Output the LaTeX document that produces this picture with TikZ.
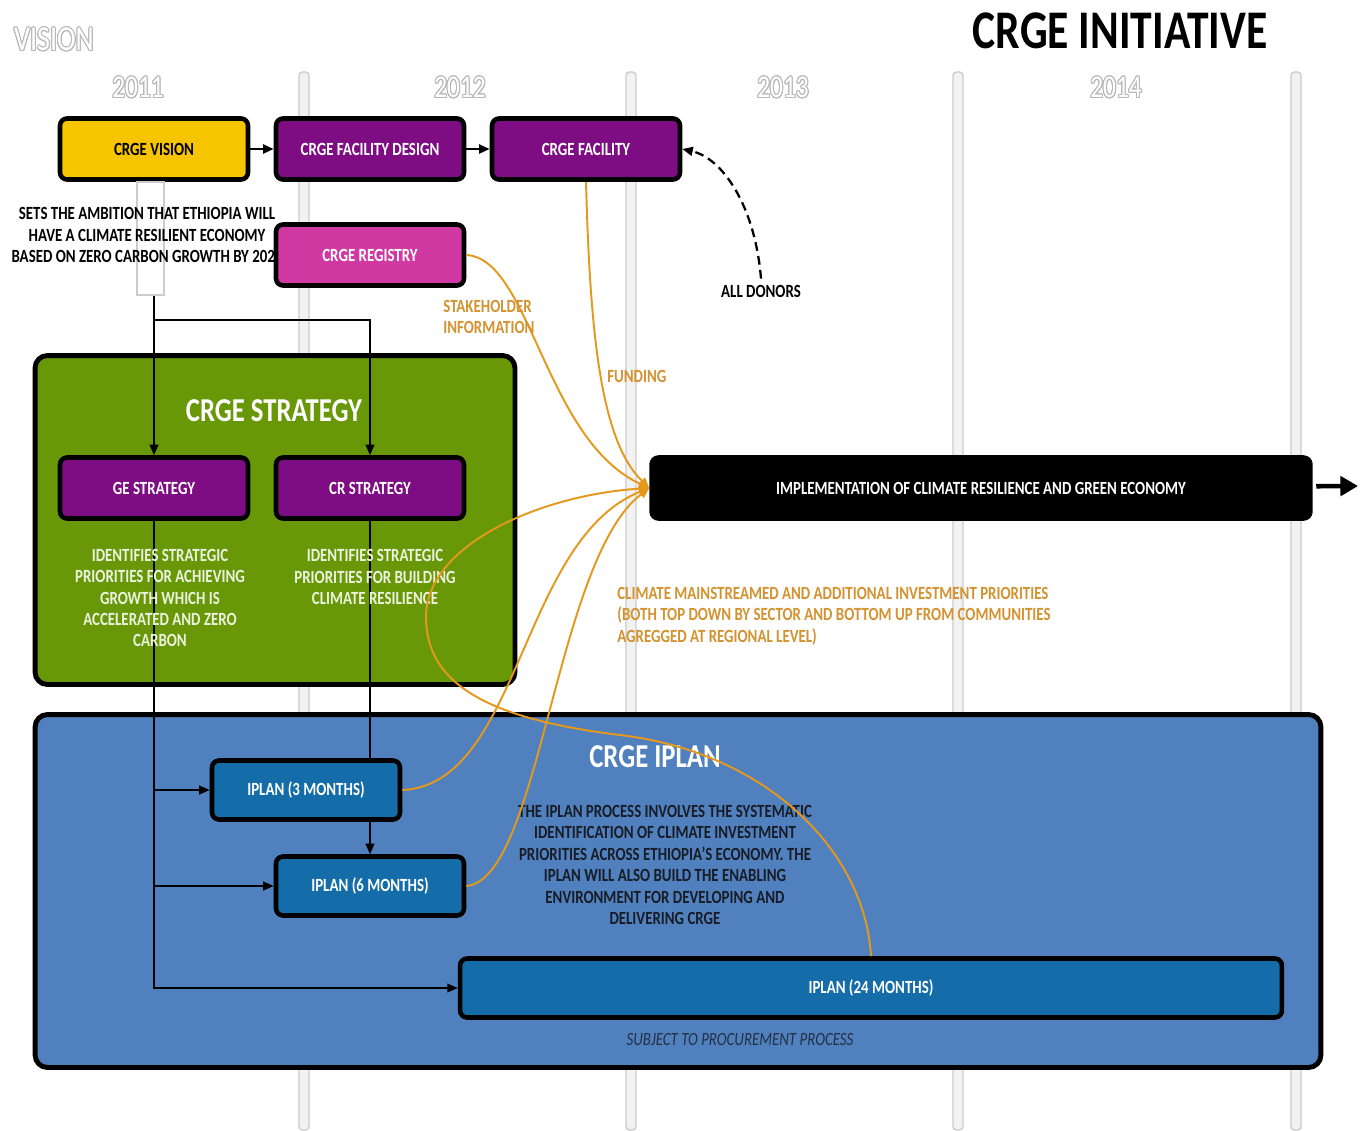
\documentclass[tikz,border=0pt]{standalone}
\usepackage{fontspec}
\setmainfont{Carlito}[FakeStretch=0.8]
\usepackage{contour}
\contourlength{0.6pt}
\usetikzlibrary{arrows.meta}

\definecolor{visionyellow}{RGB}{247,197,0}
\definecolor{crgepurple}{RGB}{126,12,130}
\definecolor{registrypink}{RGB}{208,56,162}
\definecolor{strategygreen}{RGB}{104,152,8}
\definecolor{iplanblue}{RGB}{80,129,190}
\definecolor{stepblue}{RGB}{20,108,168}
\definecolor{flowline}{RGB}{228,152,28}
\definecolor{flowtext}{RGB}{212,146,48}
\definecolor{paletext}{RGB}{236,242,222}
\definecolor{darktext}{RGB}{24,28,38}

\newcommand{\smallcaps}{\bfseries\fontsize{10.6}{12.2}\selectfont}

\tikzset{
  crgebox/.style={draw=black, line width=2.6pt, rounded corners=4pt,
    minimum width=3.76cm, minimum height=1.22cm, text=white, font=\smallcaps},
  bigbox/.style={draw=black, line width=2.8pt, rounded corners=7pt},
  yearlabel/.style={text=white, font=\fontsize{18}{18}\selectfont},
  flow/.style={flowline, line width=1.1pt, ->},
  flowlabel/.style={text=flowtext, font=\smallcaps, align=left, anchor=west, inner sep=0pt}
}

\begin{document}
\begin{tikzpicture}[x=0.02cm, y=-0.02cm, >={Triangle[length=6pt,width=5pt]}]
  \useasboundingbox (0,0) rectangle (1365,1130);
  \fill[white] (0,0) rectangle (1365,1130);

  % year columns
  \foreach \x in {304,631,958,1296}
    \draw[gray!40, fill=gray!10, line width=0.8pt, rounded corners=2pt] (\x-5,72) rectangle (\x+5,1130);
  \foreach \yr/\x in {2011/138, 2012/460, 2013/783, 2014/1116}
    \node[yearlabel] (year\yr) at (\x,88) {\contour{gray!55}{\yr}};
  \node[yearlabel, font=\fontsize{20}{20}\selectfont] (visionlabel) at (54,40) {\contour{gray!55}{VISION}};
  \node[font=\bfseries\fontsize{31}{31}\selectfont] (title) at (1120,31) {CRGE INITIATIVE};

  % big panels
  \node[bigbox, fill=strategygreen, minimum width=9.6cm, minimum height=6.58cm] (strategy) at (275,520) {};
  \node[text=white, font=\bfseries\fontsize{19}{19}\selectfont] (strategytitle) at (274,411) {CRGE STRATEGY};
  \node[bigbox, fill=iplanblue, minimum width=25.72cm, minimum height=7.06cm] (iplan) at (678,891) {};
  \node[text=white, font=\bfseries\fontsize{19}{19}\selectfont] (iplantitle) at (655,757) {CRGE IPLAN};

  % black connectors
  \coordinate (split) at (154,320);
  \node (vision) at (154,149) [crgebox, fill=visionyellow, text=black] {CRGE VISION};
  \node (ge) at (154,488) [crgebox, fill=crgepurple] {GE STRATEGY};
  \node (cr) at (370,488) [crgebox, fill=crgepurple] {CR STRATEGY};
  \node (ip3) at (306,790) [crgebox, fill=stepblue, minimum height=1.18cm] {IPLAN (3 MONTHS)};
  \node (ip6) at (370,886) [crgebox, fill=stepblue, minimum height=1.18cm] {IPLAN (6 MONTHS)};
  \node (ip24) at (871,988) [crgebox, fill=stepblue, minimum width=16.44cm, minimum height=1.18cm] {IPLAN (24 MONTHS)};
  \draw[->, line width=0.9pt] (vision) -- (ge);
  \draw[->, line width=0.9pt] (split) -| (cr);
  \draw[->, line width=0.9pt] (ge.south) |- (ip24.west);
  \draw[->, line width=0.9pt] (ge.south |- ip3.west) -- (ip3.west);
  \draw[->, line width=0.9pt] (ge.south |- ip6.west) -- (ip6.west);
  \draw[line width=0.9pt] (cr.south) -- (cr.south |- ip3.north);
  \draw[->, line width=0.9pt] (ip6.north |- ip3.south) -- (ip6.north);
  \draw[gray!40, fill=white, line width=0.8pt] (137,182) rectangle (164,295);

  % top row
  \node (design) at (370,149) [crgebox, fill=crgepurple] {CRGE FACILITY DESIGN};
  \node (facility) at (586,149) [crgebox, fill=crgepurple] {CRGE FACILITY};
  \node (registry) at (370,255) [crgebox, fill=registrypink] {CRGE REGISTRY};
  \node (impl) at (981,488) [crgebox, fill=black, minimum width=13.18cm, minimum height=1.22cm] {IMPLEMENTATION OF CLIMATE RESILIENCE AND GREEN ECONOMY};
  \coordinate (onward) at (1358,486);
  \draw[->, line width=1.6pt] (vision) -- (design);
  \draw[->, line width=1.6pt] (design) -- (facility);
  \draw[-{Triangle[length=10pt,width=11pt]}, line width=2.6pt, shorten <=2pt] (impl) -- (onward);

  \node[font=\smallcaps, align=center, inner sep=0pt] (visiontext) at (147,235)
    {SETS THE AMBITION THAT ETHIOPIA WILL\\HAVE A CLIMATE RESILIENT ECONOMY\\BASED ON ZERO CARBON GROWTH BY 202\phantom{5}};
  \node[font=\smallcaps, align=center, text=paletext, inner sep=0pt] (getext) at (160,598)
    {IDENTIFIES STRATEGIC\\PRIORITIES FOR ACHIEVING\\GROWTH WHICH IS\\ACCELERATED AND ZERO\\CARBON};
  \node[font=\smallcaps, align=center, text=paletext, inner sep=0pt] (crtext) at (375,577)
    {IDENTIFIES STRATEGIC\\PRIORITIES FOR BUILDING\\CLIMATE RESILIENCE};
  \node[font=\smallcaps, align=center, text=darktext, inner sep=0pt] (iplantext) at (665,865)
    {THE IPLAN PROCESS INVOLVES THE SYSTEMATIC\\IDENTIFICATION OF CLIMATE INVESTMENT\\PRIORITIES ACROSS ETHIOPIA'S ECONOMY. THE\\IPLAN WILL ALSO BUILD THE ENABLING\\ENVIRONMENT FOR DEVELOPING AND\\DELIVERING CRGE};
  \node[font=\itshape\fontsize{10.6}{12.2}\selectfont, text=darktext!80!iplanblue] (procurement) at (740,1040)
    {SUBJECT TO PROCUREMENT PROCESS};

  % donors
  \node[font=\smallcaps] (donors) at (761,291) {ALL DONORS};
  \draw[->, dash pattern=on 5pt off 3pt, line width=1.3pt] (donors.north) .. controls (755,205) and (722,158) .. (facility.east);

  % flows into implementation
  \draw[flow] (registry.east) .. controls (530,258) and (545,440) .. (impl.west);
  \draw[flow] (facility.south) .. controls (590,330) and (600,440) .. (impl.west);
  \draw[flow] (ip3.east) .. controls (520,785) and (520,540) .. (impl.west);
  \draw[flow] (ip6.east) .. controls (540,880) and (555,560) .. (impl.west);
  \draw[flow] (ip24.north) .. controls (865,850) and (765,752) .. (620,735)
    .. controls (480,718) and (426,680) .. (426,617)
    .. controls (426,545) and (540,495) .. (impl.west);

  \node[flowlabel] (stakeholder) at (443,317) {STAKEHOLDER\\INFORMATION};
  \node[flowlabel] (funding) at (607,376) {FUNDING};
  \node[flowlabel] (priorities) at (617,616)
    {CLIMATE MAINSTREAMED AND ADDITIONAL INVESTMENT PRIORITIES\\(BOTH TOP DOWN BY SECTOR AND BOTTOM UP FROM COMMUNITIES\\AGREGGED AT REGIONAL LEVEL)};
\end{tikzpicture}
\end{document}
